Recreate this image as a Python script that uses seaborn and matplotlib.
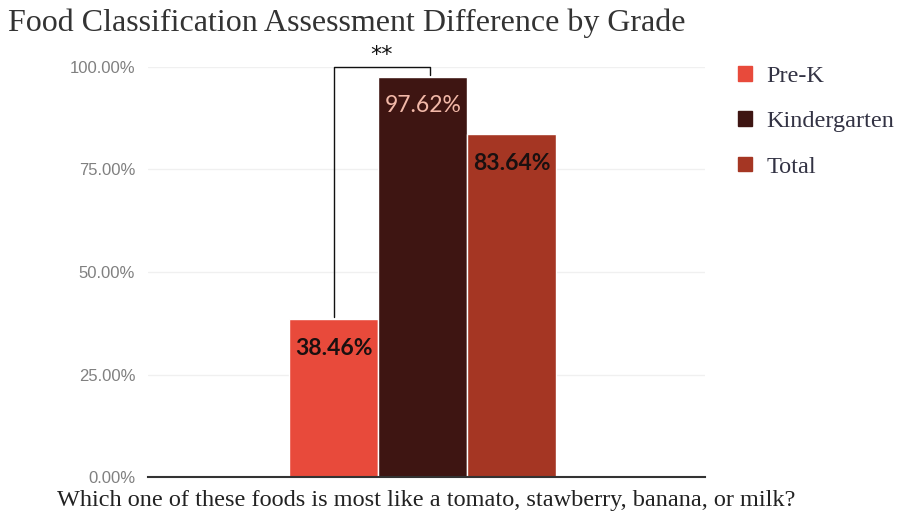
import pandas as pd
import numpy as np
import matplotlib.pyplot as plt
import seaborn as sns

# === Data ===
question = ["Which one of these foods is most like a tomato, stawberry, banana, or milk?"]
grades = ["Pre-K", "Kindergarten", "Total"]
percent_correct = [0.3846, 0.9762, 0.8364]
bar_colors = ["#e84a3b", "#3e1512", "#a53623"]
label_colors = ["#1a1010", "#f2b8a8", "#1a1010"]

df = pd.DataFrame({
    "question": question * len(grades),
    "grade": grades,
    "value": percent_correct,
})

# === Plot ===
sns.set_style("white")
plt.rcParams['font.family'] = ['DejaVu Sans']

fig = plt.figure(figsize=(9.01, 5.18), dpi=100)
ax = fig.add_axes([0.164, 0.079, 0.618, 0.792])

sns.barplot(data=df, x="question", y="value", hue="grade", hue_order=grades,
            palette=bar_colors, saturation=1, width=0.48, edgecolor="white",
            linewidth=1, ax=ax, legend=False)

ax.set_xlim(-0.494, 0.506)
ax.set_ylim(0, 1.0)
ticks = [0, 0.25, 0.5, 0.75, 1.0]
ax.set_yticks(ticks)
ax.set_yticklabels([f"{t*100:.2f}%" for t in ticks],
                   color="#808080", fontsize=12, family="Liberation Sans")
ax.tick_params(axis="y", length=0, pad=9)
ax.set_xticks([])
ax.grid(axis="y", color="#f0f0f0", linewidth=1)
ax.set_axisbelow(True)
for s in ["top", "right", "left"]:
    ax.spines[s].set_visible(False)
ax.spines["bottom"].set_color("#333333")
ax.spines["bottom"].set_linewidth(1.5)

ax.set_xlabel(question[0], family="Liberation Serif", fontsize=17.5,
              color="#222222", labelpad=9)
ax.set_ylabel("")

# value labels inside bar tops
for bar, v, c in zip(ax.patches, percent_correct, label_colors):
    x = bar.get_x() + bar.get_width() / 2
    weight = "normal" if c != "#1a1010" else "bold"
    ax.annotate(f"{v*100:.2f}%", (x, v), xytext=(0, -21), textcoords="offset points",
                ha="center", va="center", fontsize=16.5, color=c,
                family="Lato", fontweight=weight)

# significance bracket between Pre-K and Kindergarten
b0, b1 = ax.patches[0], ax.patches[1]
x0 = b0.get_x() + b0.get_width() / 2
x1 = b1.get_x() + b1.get_width() * 0.58
ax.plot([x0, x0, x1, x1], [percent_correct[0] + 0.005, 1.0, 1.0, 0.98],
        color="#111111", linewidth=1, clip_on=False)
ax.text((x0 + x1) / 2, 1.005, "**", ha="center", va="bottom", fontsize=16,
        color="#111111", family="DejaVu Sans")

# legend
handles = [plt.Rectangle((0, 0), 1, 1, color=c) for c in bar_colors]
fig.legend(handles, grades, loc="upper left", bbox_to_anchor=(0.795, 0.915),
           frameon=False, prop={"family": "Liberation Serif", "size": 17.5},
           handlelength=0.55, handleheight=0.55, labelspacing=1.0,
           handletextpad=0.6, labelcolor="#333344")

fig.text(0.009, 0.955, "Food Classification Assessment Difference by Grade",
         family="Liberation Serif", fontsize=23, color="#333333", va="center")

fig.savefig("out.png", dpi=100)
